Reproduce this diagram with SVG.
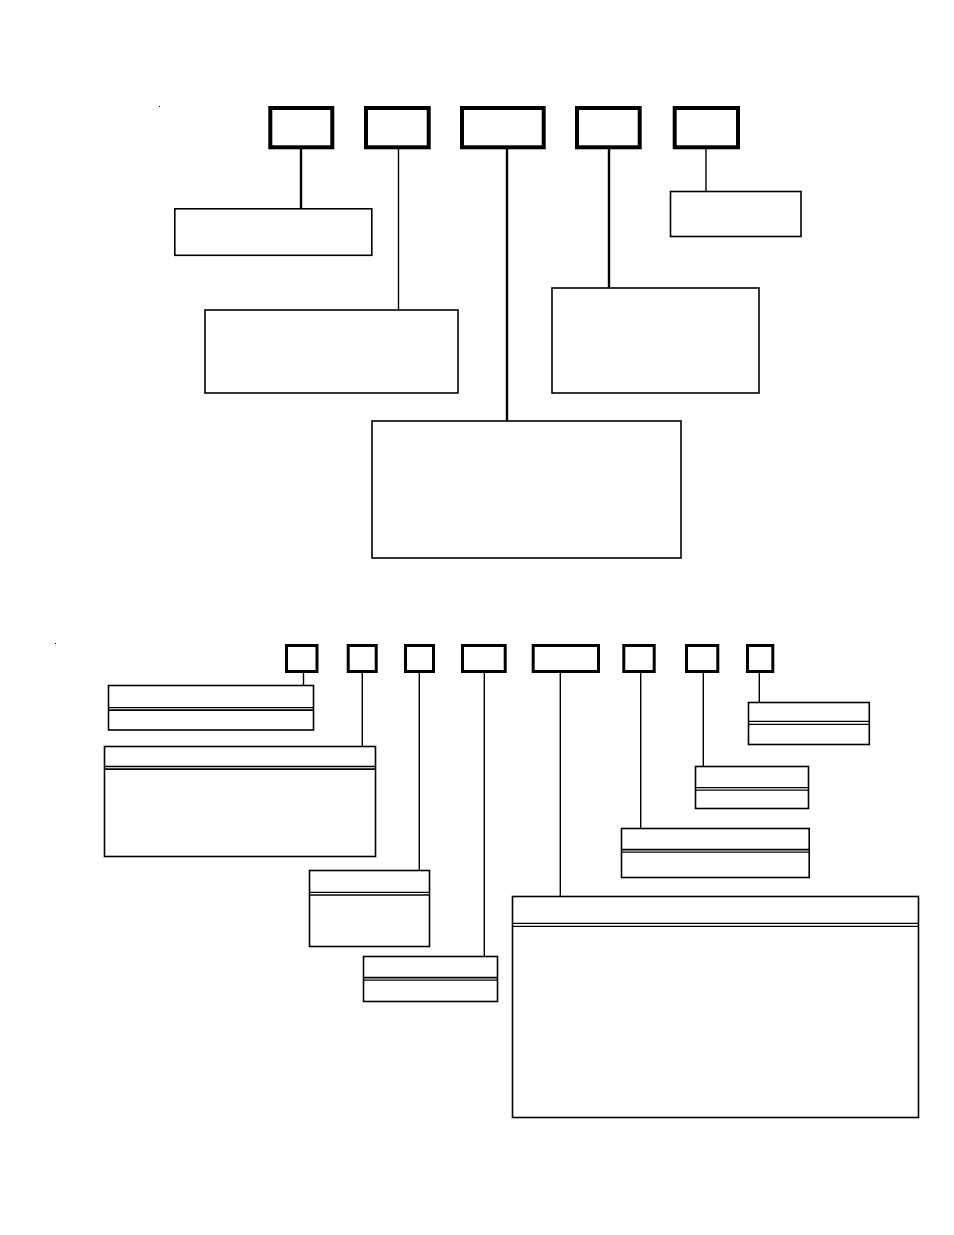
<svg xmlns="http://www.w3.org/2000/svg" width="954" height="1235" viewBox="0 0 954 1235">
<style>
.key{fill:#fff;stroke:#000;stroke-width:4}
.skey{fill:#fff;stroke:#000;stroke-width:3}
.box{fill:#fff;stroke:#000;stroke-width:1.6}
.sep{stroke:#000;stroke-width:1.3;fill:none}
.thick{stroke:#000;stroke-width:2.4;fill:none}
.thin{stroke:#000;stroke-width:1.4;fill:none}
</style>
<rect width="954" height="1235" fill="#fff"/>
<rect x="159" y="106" width="1" height="1" fill="#000"/>
<rect x="55" y="643" width="1" height="1" fill="#000"/>
<g id="connectors">
<line class="thick" x1="301" y1="148" x2="301" y2="208.5"/>
<line class="thin" x1="398.5" y1="148" x2="398.5" y2="310"/>
<line class="thick" x1="507" y1="148" x2="507" y2="421"/>
<line class="thick" x1="609" y1="148" x2="609" y2="288"/>
<line class="thin" x1="706" y1="148" x2="706" y2="191"/>
<line class="thin" x1="303.5" y1="672" x2="303.5" y2="685.5"/>
<line class="thin" x1="362.3" y1="672" x2="362.3" y2="746.5"/>
<line class="thin" x1="419.3" y1="672" x2="419.3" y2="870.5"/>
<line class="thin" x1="484.3" y1="672" x2="484.3" y2="956.5"/>
<line class="thin" x1="560.3" y1="672" x2="560.3" y2="896.5"/>
<line class="thin" x1="640.7" y1="672" x2="640.7" y2="828.5"/>
<line class="thin" x1="703.3" y1="672" x2="703.3" y2="766.5"/>
<line class="thin" x1="759.3" y1="672" x2="759.3" y2="702.5"/>
</g>
<g id="t1"><rect class="key" x="270.3" y="108" width="62" height="39.3"/></g>
<g id="t2"><rect class="key" x="366" y="108" width="62.7" height="39.3"/></g>
<g id="t3"><rect class="key" x="462" y="108" width="81.7" height="39.3"/></g>
<g id="t4"><rect class="key" x="577" y="108" width="62.7" height="39.3"/></g>
<g id="t5"><rect class="key" x="674.7" y="108" width="63.3" height="39.3"/></g>
<g id="d1"><rect class="box" x="174.8" y="208.8" width="197" height="46.5"/></g>
<g id="d2"><rect class="box" x="205" y="310" width="253" height="83"/></g>
<g id="d3"><rect class="box" x="372" y="421" width="309" height="137"/></g>
<g id="d4"><rect class="box" x="552" y="288" width="207" height="105"/></g>
<g id="d5"><rect class="box" x="670.5" y="191.5" width="130.5" height="45"/></g>
<g id="sa"><rect class="skey" x="286.5" y="645.5" width="30.5" height="26"/></g>
<g id="sb"><rect class="skey" x="348.2" y="645.5" width="28" height="26"/></g>
<g id="sc"><rect class="skey" x="405.5" y="645.5" width="28" height="26"/></g>
<g id="sd"><rect class="skey" x="462.5" y="645.5" width="42.7" height="26"/></g>
<g id="se"><rect class="skey" x="533.2" y="645.5" width="65.3" height="26"/></g>
<g id="sf"><rect class="skey" x="623.8" y="645.5" width="30.4" height="26"/></g>
<g id="sg"><rect class="skey" x="686.5" y="645.5" width="31.3" height="26"/></g>
<g id="sh"><rect class="skey" x="747.5" y="645.5" width="25.3" height="26"/></g>
<g id="la"><rect class="box" x="108.5" y="685.5" width="205" height="44.5"/><line class="sep" x1="108.5" y1="707.7" x2="313.5" y2="707.7"/><line class="sep" x1="108.5" y1="710.2" x2="313.5" y2="710.2" style="stroke-width:1.8"/></g>
<g id="lb"><rect class="box" x="104.5" y="746.5" width="271" height="110"/><line class="sep" x1="104.5" y1="766.5" x2="375.5" y2="766.5"/><line class="sep" x1="104.5" y1="769.2" x2="375.5" y2="769.2" style="stroke-width:1.8"/></g>
<g id="lc"><rect class="box" x="309.5" y="870.5" width="120" height="76"/><line class="sep" x1="309.5" y1="892.3" x2="429.5" y2="892.3"/><line class="sep" x1="309.5" y1="895" x2="429.5" y2="895"/></g>
<g id="ld"><rect class="box" x="363.5" y="956.5" width="134" height="45"/><line class="sep" x1="363.5" y1="977.7" x2="497.5" y2="977.7" style="stroke-width:1.8"/><line class="sep" x1="363.5" y1="980.2" x2="497.5" y2="980.2"/></g>
<g id="le"><rect class="box" x="512.5" y="896.5" width="406" height="221"/><line class="sep" x1="512.5" y1="923.3" x2="918.5" y2="923.3"/><line class="sep" x1="512.5" y1="926.3" x2="918.5" y2="926.3"/></g>
<g id="lf"><rect class="box" x="621.5" y="828.5" width="187.7" height="49"/><line class="sep" x1="621.5" y1="849.7" x2="809.2" y2="849.7" style="stroke-width:1.8"/><line class="sep" x1="621.5" y1="852.2" x2="809.2" y2="852.2"/></g>
<g id="lg"><rect class="box" x="695.5" y="766.5" width="113" height="42"/><line class="sep" x1="695.5" y1="787.7" x2="808.5" y2="787.7"/><line class="sep" x1="695.5" y1="790.2" x2="808.5" y2="790.2"/></g>
<g id="lh"><rect class="box" x="748.5" y="702.5" width="120.8" height="42"/><line class="sep" x1="748.5" y1="721.3" x2="869.3" y2="721.3"/><line class="sep" x1="748.5" y1="724.3" x2="869.3" y2="724.3"/></g>
</svg>
